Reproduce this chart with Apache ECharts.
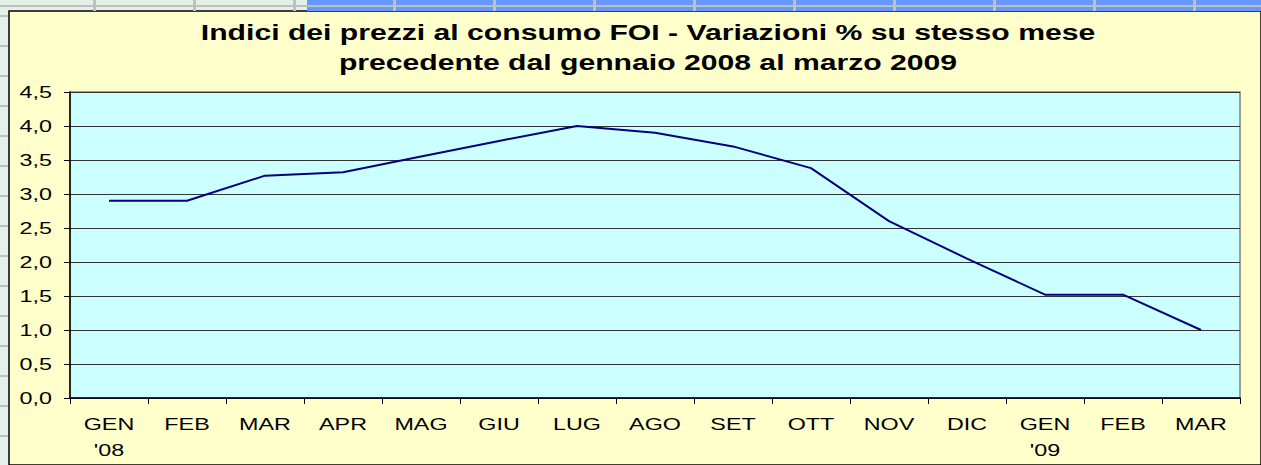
<!DOCTYPE html>
<html>
<head>
<meta charset="utf-8">
<script src="https://cdn.jsdelivr.net/npm/echarts@6/dist/echarts.min.js"></script>
<style>
  html, body { margin: 0; padding: 0; background: #e4f1e8; }
  #report_box { width: 1261px; height: 465px; }
</style>
</head>
<body>
<div id="report_box"></div>
<script>
// mesi e variazioni % (FOI) gen 2008 - mar 2009
var months = ["GEN\n'08", "FEB", "MAR", "APR", "MAG", "GIU", "LUG", "AGO", "SET", "OTT", "NOV", "DIC", "GEN\n'09", "FEB", "MAR"];
var foiValues = [2.9, 2.9, 3.27, 3.32, 3.55, 3.78, 4.0, 3.9, 3.7, 3.38, 2.6, 2.05, 1.52, 1.52, 1.0];
var chartTitle = "Indici dei prezzi al consumo FOI - Variazioni % su stesso mese\nprecedente dal gennaio 2008 al marzo 2009";

var textStretch = 1.37; // il grafico originale ha il testo "allargato"

// sfondo tipo foglio di calcolo intorno al grafico
function sheetDecor() {
    var g = [];
    g.push({type: 'rect', shape: {x: 307, y: 0, width: 954, height: 11}, style: {fill: '#6699ff'}, silent: true});
    g.push({type: 'rect', shape: {x: 0, y: 5, width: 1261, height: 2}, style: {fill: '#c0c0c0'}, silent: true});
    for (var x = 93; x < 1261; x += 100) {
        g.push({type: 'rect', shape: {x: x, y: 0, width: 3, height: 11}, style: {fill: '#c0c0c0'}, silent: true});
    }
    for (var y = 15; y < 465; y += 30) {
        g.push({type: 'rect', shape: {x: 0, y: y, width: 8, height: 2}, style: {fill: '#c0c0c0'}, silent: true});
    }
    g.push({type: 'rect', shape: {x: 9, y: 11, width: 1252, height: 454}, style: {fill: '#ffffcc', stroke: '#000', lineWidth: 1.5}, z: -10, silent: true});
    return g;
}

function stretchText() {
    var texts = document.querySelectorAll('#report_box svg text');
    for (var i = 0; i < texts.length; i++) {
        var t = texts[i];
        if (t.getAttribute('lengthAdjust')) continue;
        var len = t.getComputedTextLength();
        if (!len) continue;
        t.setAttribute('textLength', (len * textStretch).toFixed(1));
        t.setAttribute('lengthAdjust', 'spacingAndGlyphs');
    }
}

function init() {
    var myChart = echarts.init(document.getElementById('report_box'), null, {renderer: 'svg'});
    var option = {
        backgroundColor: 'transparent',
        animation: false,
        graphic: sheetDecor(),
        title: {
            text: chartTitle,
            left: 643,
            top: 12,
            textAlign: 'center',
            textStyle: {
                fontFamily: 'Liberation Sans, Arial, sans-serif',
                fontWeight: 'bold',
                fontSize: 22,
                lineHeight: 30,
                color: '#000'
            }
        },
        grid: {
            left: 70,
            right: 21,
            top: 92,
            bottom: 67,
            show: true,
            backgroundColor: '#ccffff',
            borderColor: '#808080',
            borderWidth: 1.5
        },
        xAxis: {
            type: 'category',
            boundaryGap: true,
            data: months,
            axisLine: {lineStyle: {color: '#000', width: 1.5}},
            axisTick: {show: true, length: 6, inside: false, lineStyle: {color: '#000'}},
            axisLabel: {
                interval: 0,
                margin: 13,
                color: '#000',
                fontFamily: 'Liberation Sans, Arial, sans-serif',
                fontSize: 17,
                lineHeight: 26
            }
        },
        yAxis: {
            type: 'value',
            min: 0,
            max: 4.5,
            interval: 0.5,
            axisLine: {show: true, lineStyle: {color: '#000', width: 1.5}},
            axisTick: {show: true, length: 6, lineStyle: {color: '#000'}},
            axisLabel: {
                margin: 18,
                color: '#000',
                fontFamily: 'Liberation Sans, Arial, sans-serif',
                fontSize: 17,
                formatter: function (v) { return v.toFixed(1).replace('.', ','); }
            },
            splitLine: {lineStyle: {color: '#333', width: 1}}
        },
        series: [{
            name: 'FOI',
            type: 'line',
            data: foiValues,
            showSymbol: false,
            lineStyle: {color: '#000080', width: 2},
            itemStyle: {color: '#000080'}
        }]
    };
    myChart.on('finished', stretchText);
    myChart.setOption(option);
    stretchText();
    setTimeout(stretchText, 50);
}

init();
</script>
</body>
</html>
